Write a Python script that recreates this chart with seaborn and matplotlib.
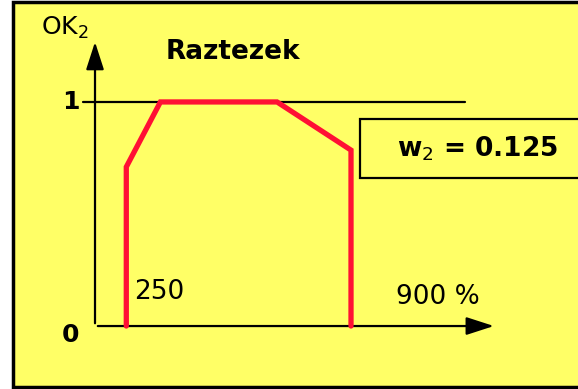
import numpy as np
import pandas as pd
import matplotlib.pyplot as plt
import seaborn as sns
from matplotlib.patches import Rectangle, FancyArrowPatch

# === DATA ===
strain = [110, 110, 230, 640, 900, 900]      # % elongation
ok2 = [0.0, 0.71, 1.0, 1.0, 0.785, 0.0]      # OK2 score
x_marks = [250, 900]
w2 = 0.125

df = pd.DataFrame({'strain': strain, 'ok2': ok2})

sns.set_style("white")
plt.rcParams['font.family'] = ['DejaVu Sans']
plt.rcParams['text.color'] = 'black'

YELLOW = '#FFFF66'
RED = '#FF1034'

fig = plt.figure(figsize=(5.78, 3.89), dpi=100)
ax = fig.add_axes([0, 0, 1, 1])

# background panel with border
ax.add_patch(Rectangle((-288, -0.272), 2100, 1.72, facecolor=YELLOW,
                       edgecolor='black', lw=2.5, zorder=0))

# axes with arrows
arrow = '-|>,head_length=17,head_width=5.5'
ax.add_patch(FancyArrowPatch((0, 0), (1412, 0), arrowstyle=arrow,
                             mutation_scale=1, color='black', lw=1.6, zorder=2))
ax.add_patch(FancyArrowPatch((0, 0), (0, 1.28), arrowstyle=arrow,
                             mutation_scale=1, color='black', lw=1.6, zorder=2))
ax.plot([-42, 1300], [1, 1], color='black', lw=1.6, zorder=2)

# red curve (no aggregation, keep drawing order)
sns.lineplot(data=df, x='strain', y='ok2', sort=False, estimator=None,
             color=RED, lw=3.8, ax=ax, zorder=3, solid_joinstyle='miter')

ax.set_xlim(-334, 1698)
ax.set_ylim(-0.281, 1.455)
ax.axis('off')

# labels
ax.text(-105, 1.33, 'OK$_2$', fontsize=18, ha='center', va='center')
ax.text(485, 1.225, 'Raztezek', fontsize=19, fontweight='bold', ha='center', va='center')
ax.text(-85, 1.0, '1', fontsize=18, fontweight='bold', ha='center', va='center')
ax.text(-85, -0.04, '0', fontsize=18, fontweight='bold', ha='center', va='center')
ax.text(x_marks[0] - 25, 0.15, f'{x_marks[0]}', fontsize=19, ha='center', va='center')
ax.text(x_marks[1] + 305, 0.13, f'{x_marks[1]} %', fontsize=19, ha='center', va='center')

# w2 box
ax.add_patch(Rectangle((932, 0.66), 900, 0.265, facecolor=YELLOW,
                       edgecolor='black', lw=1.6, zorder=4))
ax.text(1345, 0.79, f'w$_2$ = {w2}', fontsize=19, fontweight='bold',
        ha='center', va='center', zorder=5)

fig.savefig('out.png', dpi=100, facecolor='white')
